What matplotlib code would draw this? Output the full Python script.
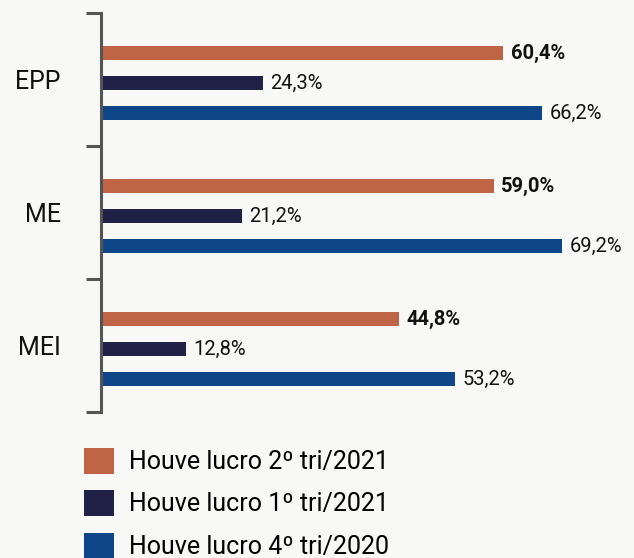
import numpy as np
import matplotlib
matplotlib.use("Agg")
from matplotlib import pyplot as plt

plt.rcParams['font.family'] = ['Roboto', 'DejaVu Sans']

groups = ["EPP", "ME", "MEI"]
series = ["Houve lucro 2º tri/2021", "Houve lucro 1º tri/2021", "Houve lucro 4º tri/2020"]
q2_2021 = [60.4, 59.0, 44.8]
q1_2021 = [24.3, 21.2, 12.8]
q4_2020 = [66.2, 69.2, 53.2]
colors = ["#c06446", "#1f2147", "#0f4687"]
bold = [True, False, False]

bg = "#f8f8f6"
fig = plt.figure(figsize=(6.34, 5.58), dpi=100, facecolor=bg)
ax = fig.add_axes([101/634, 1-412/558, 533/634, 399/558], facecolor=bg)

pos = np.arange(len(groups))
step = 0.2256
shift = 0.026
h = 0.112
for i, (vals, col) in enumerate(zip([q2_2021, q1_2021, q4_2020], colors)):
    y = pos + (i-1)*step + shift
    ax.barh(y, vals, height=h, color=col, label=series[i])
    for yy, v in zip(y, vals):
        ax.text(v + 1.1, yy, f"{v:.1f}%".replace(".", ","), va="center", ha="left",
                fontsize=14.5, fontweight="bold" if bold[i] else "normal", color="#111111")

ax.set_xlim(0, 80)
ax.set_ylim(2.5, -0.5)
ax.set_xticks([])
ax.set_yticks(pos)
ax.set_yticklabels(groups, fontsize=18, color="#111111")
ax.set_yticks(np.arange(-0.5, 3.0, 1.0), minor=True)
ax.tick_params(axis="y", which="major", length=0, pad=29)
ax.tick_params(axis="y", which="minor", length=11, width=2.2, color="#555555", direction="out")
for s in ["top", "right", "bottom"]:
    ax.spines[s].set_visible(False)
ax.spines["left"].set_color("#555555")
ax.spines["left"].set_linewidth(2.2)

fig.legend(loc="upper left", bbox_to_anchor=(84/634, 1-448/558), frameon=False,
           fontsize=18, handlelength=1.2, handleheight=1.2, handletextpad=0.6,
           labelspacing=0.64, borderpad=0, borderaxespad=0)

fig.savefig("out.png", dpi=100, facecolor=bg)
